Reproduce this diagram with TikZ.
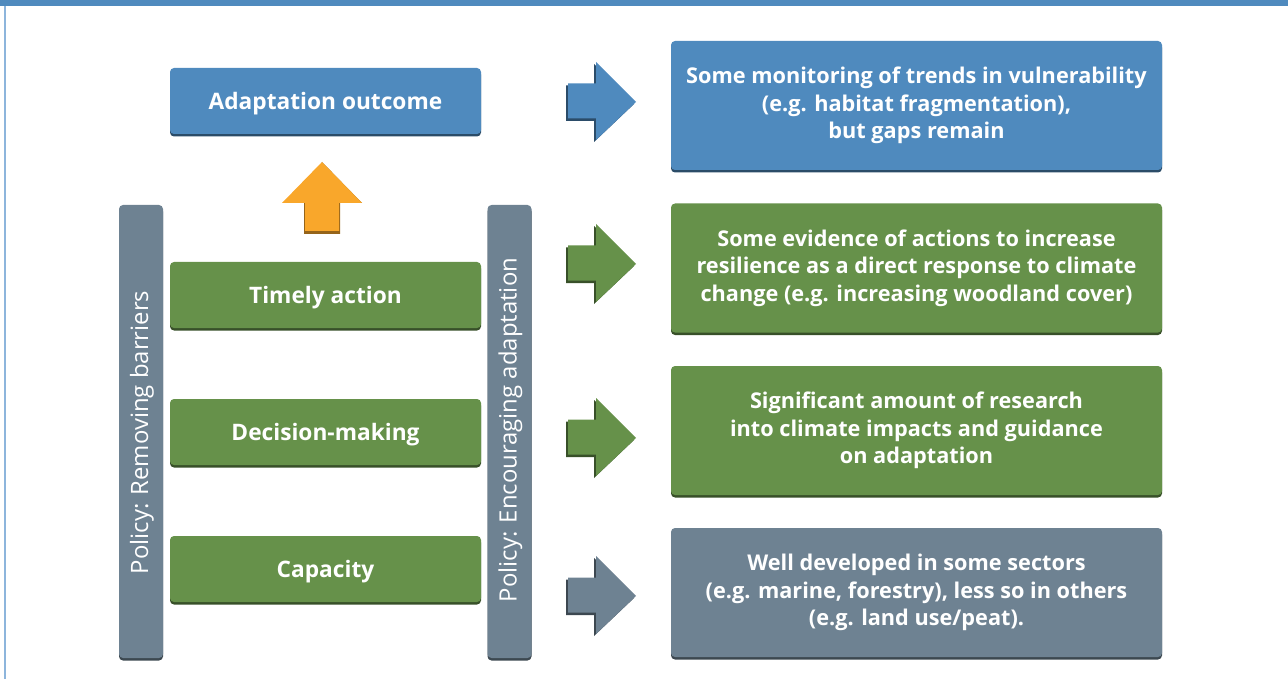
\documentclass[tikz,border=0pt]{standalone}
\usepackage{fontspec}
\setmainfont{Open Sans}
\definecolor{outblue}{HTML}{4F8ABE}
\definecolor{actgreen}{HTML}{66914A}
\definecolor{slate}{HTML}{6E8292}
\definecolor{uporange}{HTML}{F9A72B}
\definecolor{framebl}{HTML}{8DB5DC}
\tikzset{
  bevel/.style={preaction={fill=#1!55!black, transform canvas={yshift=-2.5pt}}},
  stepbox/.style={rounded corners=4pt, fill=#1, bevel=#1, text=white,
    minimum width=311pt, minimum height=66pt, inner sep=0pt,
    text height=17pt, text depth=0pt,
    font=\bfseries\fontsize{22.7}{26}\selectfont},
  infobox/.style={rounded corners=4pt, fill=#1, bevel=#1, text=white, align=center,
    minimum width=491pt, minimum height=129pt, inner sep=0pt,
    font=\bfseries\fontsize{21.7}{27.5}\selectfont},
  pillartxt/.style={rotate=90, text=white, font=\fontsize{23.9}{26}\selectfont},
  pillar/.style={rounded corners=4pt, fill=slate, bevel=slate,
    minimum width=44pt, minimum height=453pt, inner sep=0pt}
}
\newcommand{\rightarrowblk}[2]{% tip y, colour
  \fill[#2!55!black] (566,#1-16.5) -- (594,#1-16.5) -- (594,#1-38) -- (634,#1+2) -- (594,#1+40) -- (594,#1+19) -- (566,#1+19) -- cycle;
  \fill[#2] (568,#1-18.5) -- (596,#1-18.5) -- (596,#1-40) -- (636,#1) -- (596,#1+38) -- (596,#1+16.5) -- (568,#1+16.5) -- cycle;
}
\begin{document}
\begin{tikzpicture}[x=1pt, y=-1pt]

    \useasboundingbox (0,0) rectangle (1288,679);

    % frame
    \fill[outblue] (0,0) rectangle (1288,6.5);
    \draw[framebl, line width=1.6pt] (5,6) -- (5,679);

    % pillars
    \node[pillar] (barriers) at (141,431.5) {};
    \node[pillartxt] (barrierstxt) at (142,432.5) {Policy: Removing barriers};
    \node[pillar] (encourage) at (509.5,431.5) {};
    \node[pillartxt] (encouragetxt) at (510.5,430) {Policy: Encouraging adaptation};

    % ladder
    \node[stepbox=outblue] (outcome) at (325.5,101) {Adaptation outcome};
    \node[stepbox=actgreen] (timely) at (325.5,295) {Timely action};
    \node[stepbox=actgreen] (decision) at (325.5,432) {Decision-making};
    \node[stepbox=actgreen] (capacity) at (325.5,569) {Capacity};

    % up arrow
    \fill[uporange!60!black] (304,203) -- (304,234) -- (340,234) -- (340,203) -- (362,203) -- (322,162) -- cycle;
    \fill[uporange] (282,203) -- (322,162) -- (362,203) -- (339,203) -- (339,231) -- (305,231) -- (305,203) -- cycle;

    % assessments
    \node[infobox=outblue] (trends) at (916.5,105.5) {Some monitoring of trends in vulnerability\\(e.g. habitat fragmentation),\\but gaps remain};
    \node[infobox=actgreen] (resilience) at (916.5,268) {Some evidence of actions to increase\\resilience as a direct response to climate\\change (e.g. increasing woodland cover)};
    \node[infobox=actgreen] (research) at (916.5,430.5) {Significant amount of research\\into climate impacts and guidance\\on adaptation};
    \node[infobox=slate] (sectors) at (916.5,592.5) {Well developed in some sectors\\(e.g. marine, forestry), less so in others\\(e.g. land use/peat).};

    % right arrows
    \rightarrowblk{102}{outblue}
    \rightarrowblk{264}{actgreen}
    \rightarrowblk{438}{actgreen}
    \rightarrowblk{596}{slate}

\end{tikzpicture}
\end{document}
